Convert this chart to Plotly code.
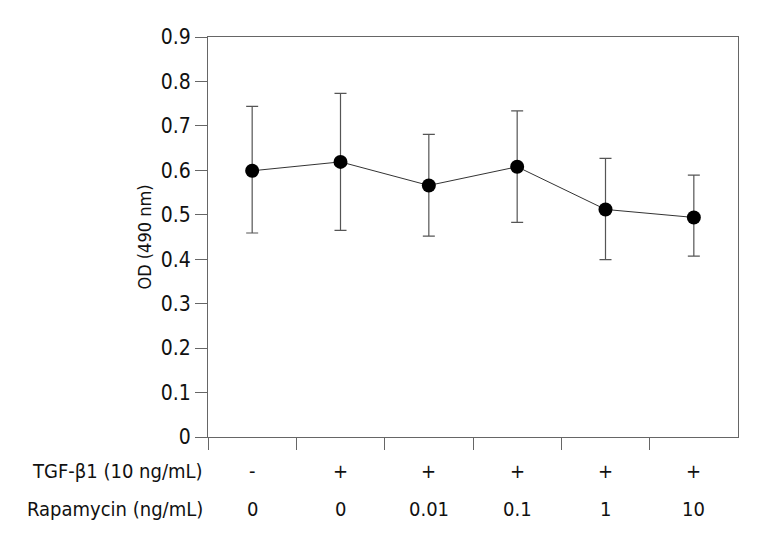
import plotly.graph_objects as go

tgf = ["-", "+", "+", "+", "+", "+"]
rapamycin = ["0", "0", "0.01", "0.1", "1", "10"]
od_mean = [0.599, 0.619, 0.566, 0.608, 0.512, 0.494]
err_upper = [0.744, 0.773, 0.681, 0.734, 0.627, 0.589]
err_lower = [0.459, 0.465, 0.452, 0.483, 0.399, 0.407]
y_ticks = [0, 0.1, 0.2, 0.3, 0.4, 0.5, 0.6, 0.7, 0.8, 0.9]

FONT = "DejaVu Sans Condensed, Liberation Sans Narrow, sans-serif"
xs = list(range(len(od_mean)))

fig = go.Figure()
fig.add_trace(go.Scatter(
    x=xs, y=od_mean, mode="lines+markers",
    line=dict(color="#333333", width=1),
    marker=dict(color="#000000", size=14),
    error_y=dict(type="data", symmetric=False,
                 array=[u - m for u, m in zip(err_upper, od_mean)],
                 arrayminus=[m - l for m, l in zip(od_mean, err_lower)],
                 color="#555555", thickness=1.2, width=6),
    showlegend=False,
))

plot_top, plot_bottom = 37, 437


def py(pix):
    return (plot_bottom - pix) / (plot_bottom - plot_top)


annotations = []
for i in xs:
    annotations.append(dict(x=i, y=py(471), xref="x", yref="paper", yanchor="middle",
                            text=tgf[i], showarrow=False, font=dict(size=20, color="#111")))
    annotations.append(dict(x=i, y=py(509), xref="x", yref="paper", yanchor="middle",
                            text=rapamycin[i], showarrow=False, font=dict(size=20, color="#111")))
annotations.append(dict(x=(205 - 208) / 530, y=py(471), xref="paper", yref="paper",
                        xanchor="right", yanchor="middle",
                        text="TGF-β1 (10 ng/mL)", showarrow=False,
                        font=dict(size=20, color="#111")))
annotations.append(dict(x=(205 - 208) / 530, y=py(509), xref="paper", yref="paper",
                        xanchor="right", yanchor="middle",
                        text="Rapamycin (ng/mL)", showarrow=False,
                        font=dict(size=20, color="#111")))

fig.update_layout(
    width=753, height=537,
    margin=dict(l=200, r=23, t=29, b=108),
    paper_bgcolor="white", plot_bgcolor="white",
    font=dict(family=FONT, size=21, color="#111"),
    xaxis=dict(range=[-0.5, 5.5], tickvals=[-0.5, 0.5, 1.5, 2.5, 3.5, 4.5],
               ticktext=[""] * 6, ticks="outside", ticklen=12, tickcolor="#666",
               showline=True, linecolor="#666", linewidth=1, mirror=True,
               showgrid=False, zeroline=False),
    yaxis=dict(range=[0, 0.9], tickvals=y_ticks,
               ticktext=[("%g" % v) for v in y_ticks],
               ticks="outside", ticklen=12, tickcolor="#666",
               showline=True, linecolor="#666", linewidth=1, mirror=True,
               showgrid=False, zeroline=False,
               title=dict(text="OD (490 nm)", font=dict(size=18), standoff=4)),
    annotations=annotations,
)

fig.write_html("out.html")
